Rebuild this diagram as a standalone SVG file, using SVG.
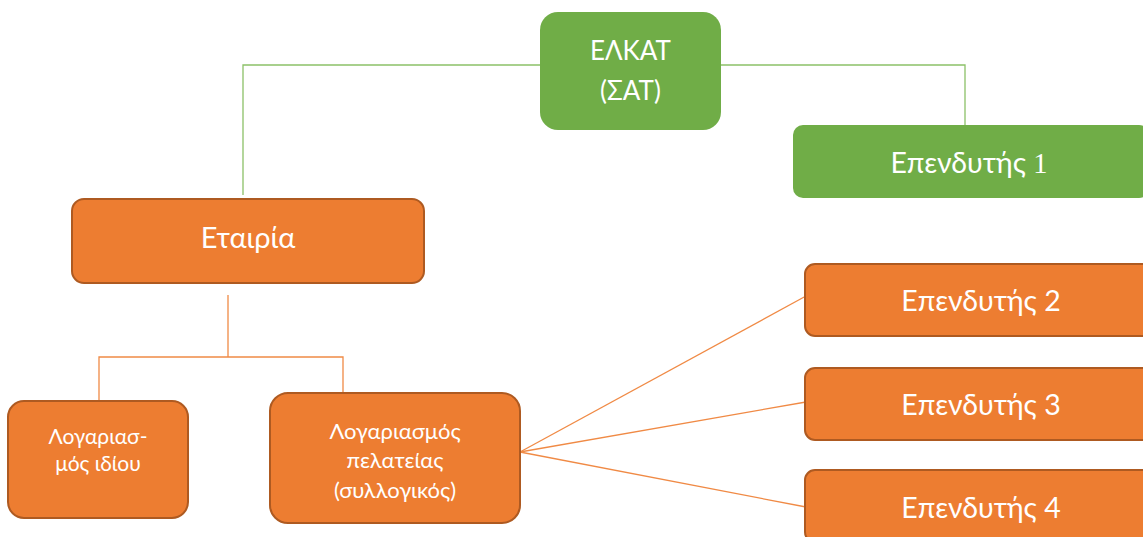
<svg xmlns="http://www.w3.org/2000/svg" width="1143" height="537" viewBox="0 0 1143 537">
<style>
.g{fill:#70AD47;}
.o{fill:#ED7D31;stroke:#AE5A21;stroke-width:2;}
.t{fill:#FFFFFF;font-family:Lato,"Noto Sans","Open Sans",sans-serif;text-anchor:middle;}
.d{font-family:"Liberation Serif",serif;}
.cg{stroke:#8CC168;stroke-width:1.3;fill:none;}
.co{stroke:#F08A45;stroke-width:1.3;fill:none;}
</style>
<rect width="1143" height="537" fill="#FFFFFF"/>
<g id="connectors">
<polyline class="cg" points="540,65 243,65 243,195"/>
<polyline class="cg" points="721,65 965,65 965,125"/>
<polyline class="co" points="228,295 228,357"/>
<polyline class="co" points="99,400 99,357 343,357 343,392"/>
<line class="co" x1="520" y1="452" x2="806" y2="296"/>
<line class="co" x1="520" y1="452" x2="806" y2="402"/>
<line class="co" x1="520" y1="452" x2="806" y2="507"/>
</g>
<g id="elkat">
<rect class="g" x="540" y="12" width="181" height="118" rx="18"/>
<text class="t" x="630.5" y="60" font-size="26">ΕΛΚΑΤ</text>
<text class="t" x="630.5" y="100" font-size="26">(ΣΑΤ)</text>
</g>
<g id="ependytis1">
<rect class="g" x="793" y="125" width="356" height="73" rx="10"/>
<text class="t" x="969" y="173" font-size="28.5">Επενδυτής <tspan class="d">1</tspan></text>
</g>
<g id="etairia">
<rect class="o" x="72" y="199" width="352" height="84" rx="12"/>
<text class="t" x="248" y="248" font-size="29">Εταιρία</text>
</g>
<g id="logariasmos-idiou">
<rect class="o" x="8" y="401" width="180" height="117" rx="16"/>
<text class="t" x="98" y="444" font-size="21">Λογαριασ-</text>
<text class="t" x="98" y="471" font-size="21">μός ιδίου</text>
</g>
<g id="logariasmos-pelateias">
<rect class="o" x="270" y="393" width="250" height="130" rx="18"/>
<text class="t" x="395" y="439" font-size="22">Λογαριασμός</text>
<text class="t" x="395" y="468" font-size="22">πελατείας</text>
<text class="t" x="395" y="498" font-size="22">(συλλογικός)</text>
</g>
<g id="ependytis2">
<rect class="o" x="805" y="264" width="352" height="72" rx="10"/>
<text class="t" x="981" y="311" font-size="28.5">Επενδυτής 2</text>
</g>
<g id="ependytis3">
<rect class="o" x="805" y="368" width="352" height="72" rx="10"/>
<text class="t" x="981" y="415" font-size="28.5">Επενδυτής 3</text>
</g>
<g id="ependytis4">
<rect class="o" x="805" y="470" width="352" height="72" rx="10"/>
<text class="t" x="981" y="518" font-size="28.5">Επενδυτής 4</text>
</g>
</svg>
